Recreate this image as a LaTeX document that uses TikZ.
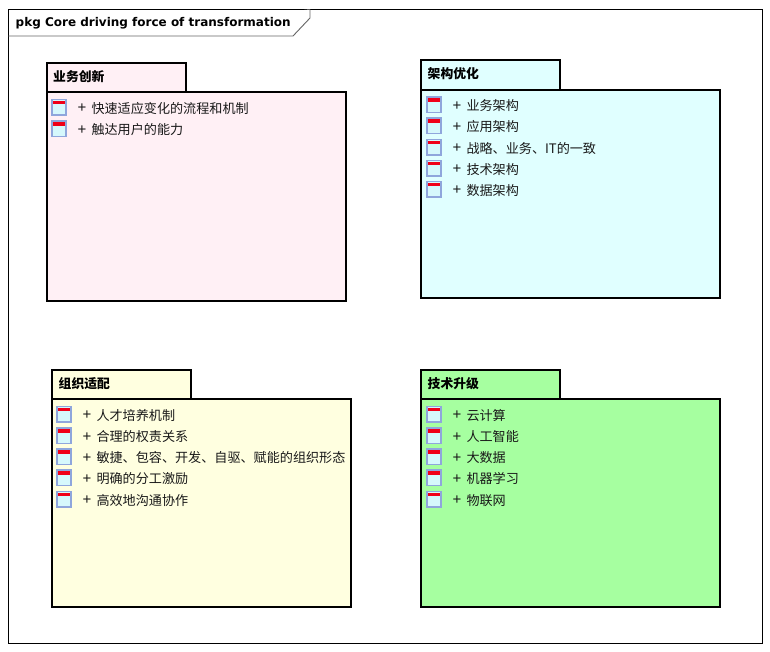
\documentclass[tikz,border=0pt]{standalone}
\usepackage{fontspec}
\setmainfont{Liberation Sans}
\newfontfamily\cjk{Noto Sans CJK SC}
\newfontfamily\titlefont{DejaVu Sans}
\newcommand{\pkgrow}[4]{%
  \node[rowicon,anchor=north west] (#1i) at (#2+0.2,#3-8.3) {};
  \fill[iconred] ([shift={(0.8,1)}]#1i.north west) rectangle ([shift={(-0.8,4.5)}]#1i.north east);
  \node[rowplus] (#1p) at (#2+30,#3+0.4) {+};
  \node[rowtext] (#1t) at (#2+39.3,#3+0.1) {#4};
}
\tikzset{
  x=1pt,y=-1pt,
  pkgline/.style={draw=black,line width=2pt,line join=miter},
  rowicon/.style={draw=iconblue,line width=1.5pt,fill=iconfill,minimum width=14pt,minimum height=15.5pt,inner sep=0pt,outer sep=0pt},
  rowtext/.style={anchor=west,inner sep=0pt,font=\cjk\fontsize{13.1}{15}\selectfont,text=black!90},
  rowplus/.style={anchor=center,inner sep=0pt,font=\fontsize{15}{16}\selectfont,text=black!90},
  tabtext/.style={anchor=west,inner sep=0pt,font=\cjk\bfseries\fontsize{12.8}{15}\selectfont},
}
\definecolor{iconblue}{HTML}{8FA6DC}
\definecolor{iconfill}{HTML}{D6F8FC}
\definecolor{iconred}{HTML}{F00018}
\definecolor{pinkfill}{HTML}{FFF0F5}
\definecolor{cyanfill}{HTML}{E0FFFF}
\definecolor{yellowfill}{HTML}{FFFFE0}
\definecolor{greenfill}{HTML}{A6FFA0}
\begin{document}
\begin{tikzpicture}
\useasboundingbox (0,0) rectangle (770,651);
\fill[white] (0,0) rectangle (770,651);
% frame
\draw[black,line width=0.9pt] (8.5,9.5) rectangle (762.5,643.5);
\draw[black!60,line width=0.9pt,fill=white] (8.5,36) -- (293,36) -- (310,18) -- (310,9.5);
\node[anchor=west,inner sep=0pt,font=\titlefont\bfseries\fontsize{12}{15}\selectfont] (title) at (15.5,23) {pkg Core driving force of transformation};
% package 1
\draw[pkgline,fill=pinkfill] (46.5,63) rectangle (186,92);
\draw[pkgline,fill=pinkfill] (46.5,92) rectangle (346,300.5);
\node[tabtext] (n1) at (53,76.5) {业务创新};
\pkgrow{a1}{52}{108}{快速适应变化的流程和机制}
\pkgrow{a2}{52}{129.5}{触达用户的能力}
% package 2
\draw[pkgline,fill=cyanfill] (421,60) rectangle (560,89.5);
\draw[pkgline,fill=cyanfill] (421,89.5) rectangle (720,298);
\node[tabtext] (n2) at (427.5,74) {架构优化};
\pkgrow{b1}{427}{105.5}{业务架构}
\pkgrow{b2}{427}{126.5}{应用架构}
\pkgrow{b3}{427}{148}{战略、业务、IT的一致}
\pkgrow{b4}{427}{169}{技术架构}
\pkgrow{b5}{427}{190}{数据架构}
% package 3
\draw[pkgline,fill=yellowfill] (52,370) rectangle (191,399);
\draw[pkgline,fill=yellowfill] (52,399) rectangle (351,607);
\node[tabtext] (n3) at (58.5,384) {组织适配};
\pkgrow{c1}{57}{415}{人才培养机制}
\pkgrow{c2}{57}{436.5}{合理的权责关系}
\pkgrow{c3}{57}{457.5}{敏捷、包容、开发、自驱、赋能的组织形态}
\pkgrow{c4}{57}{478.5}{明确的分工激励}
\pkgrow{c5}{57}{500}{高效地沟通协作}
% package 4
\draw[pkgline,fill=greenfill] (421,370) rectangle (560,399);
\draw[pkgline,fill=greenfill] (421,399) rectangle (720,607);
\node[tabtext] (n4) at (427.5,384) {技术升级};
\pkgrow{d1}{427}{415}{云计算}
\pkgrow{d2}{427}{436.5}{人工智能}
\pkgrow{d3}{427}{457.5}{大数据}
\pkgrow{d4}{427}{478.5}{机器学习}
\pkgrow{d5}{427}{500}{物联网}
\end{tikzpicture}
\end{document}
